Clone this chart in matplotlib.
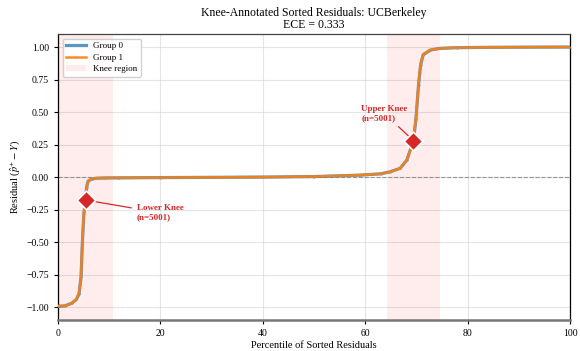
import matplotlib
matplotlib.use("Agg")
import matplotlib.pyplot as plt

plt.rcParams["font.family"] = ["Liberation Serif", "DejaVu Serif"]
plt.rcParams["mathtext.fontset"] = "stix"

# Sorted residual curves (percentile -> residual), per group
pct_g0 = [0, 1.4, 2.7, 3.6, 4.1, 4.5, 4.75, 5.05, 5.4, 5.6, 5.9, 6.6, 7.5, 9, 12, 20, 30,
          40, 50, 59, 63, 64.8, 66.8, 68.1, 68.9, 69.4, 69.9, 70.4, 70.8, 71.3, 72.7,
          74.6, 77.9, 84.4, 90, 100]
res_g0 = [-0.995, -0.99, -0.97, -0.94, -0.90, -0.77, -0.51, -0.28, -0.18, -0.074, -0.03,
          -0.015, -0.009, -0.007, -0.006, -0.004, -0.002, 0.0, 0.004, 0.015, 0.025, 0.04,
          0.067, 0.13, 0.22, 0.28, 0.45, 0.71, 0.86, 0.94, 0.977, 0.99, 0.995, 0.998,
          0.999, 1.0]
pct_g1 = [0, 1.4, 2.7, 3.6, 4.1, 4.5, 4.75, 5.05, 5.4, 5.6, 5.9, 6.6, 7.5, 9, 12, 20, 30,
          40, 50, 59, 63, 64.8, 66.8, 68.1, 68.9, 69.4, 69.9, 70.4, 70.8, 71.3, 72.7,
          74.6, 77.9, 84.4, 90, 100]
res_g1 = [-0.99, -0.99, -0.97, -0.94, -0.89, -0.76, -0.50, -0.27, -0.17, -0.07, -0.028,
          -0.014, -0.009, -0.007, -0.006, -0.004, -0.002, 0.0, 0.004, 0.015, 0.025, 0.04,
          0.067, 0.13, 0.22, 0.28, 0.46, 0.72, 0.87, 0.945, 0.978, 0.99, 0.995, 0.998,
          0.999, 1.0]

# Knee regions and knee points
knee_regions = [(0.0, 10.8), (64.3, 74.5)]
knee_x = [5.45, 69.4]
knee_y = [-0.177, 0.28]
knee_names = ["Lower Knee", "Upper Knee"]
knee_counts = [5001, 5001]
label_pos = [(15.4, -0.275), (59.2, 0.49)]

title = "Knee-Annotated Sorted Residuals: UCBerkeley\nECE = 0.333"

fig = plt.figure(figsize=(5.8, 3.51), dpi=100)
ax = fig.add_axes([0.1, 0.088, 0.883, 0.815])

span_handle = None
for i, (lo, hi) in enumerate(knee_regions):
    h = ax.axvspan(lo, hi, color="red", alpha=0.07, lw=0)
    if span_handle is None:
        span_handle = h

ax.axhline(0, color="gray", ls="--", lw=0.8, alpha=0.8)

(l0,) = ax.plot(pct_g0, res_g0, color="#1f77b4", lw=2.3, alpha=0.75,
                marker="o", ms=1.8, mfc="#7f8fa0", mec="none", zorder=3)
(l1,) = ax.plot(pct_g1, res_g1, color="#ff7f0e", lw=1.8, alpha=0.9, zorder=4)

red = "#d62728"
for kx, ky, name, n, (tx, ty) in zip(knee_x, knee_y, knee_names, knee_counts, label_pos):
    ax.scatter([kx], [ky], marker="D", s=90, color=red, edgecolor="white",
               linewidth=1.2, zorder=6)
    ax.annotate(f"{name}\n(n={n})", xy=(kx, ky), xytext=(tx, ty),
                textcoords="data", fontsize=6.5, fontweight="bold", color=red,
                ha="left", va="center",
                arrowprops=dict(arrowstyle="-", color=red, lw=0.9))

ax.set_xlim(0, 100)
ax.set_ylim(-1.1, 1.1)
ax.set_yticks([-1.0, -0.75, -0.5, -0.25, 0.0, 0.25, 0.5, 0.75, 1.0])
ax.set_xticks([0, 20, 40, 60, 80, 100])
ax.grid(True, color="#cccccc", alpha=0.5, lw=0.8)
ax.set_axisbelow(True)
ax.tick_params(labelsize=7, length=3, width=0.8)

ax.set_xlabel("Percentile of Sorted Residuals", fontsize=7.5, labelpad=2)
ax.set_ylabel(r"Residual ($\hat{p}^{+} - Y$)", fontsize=7.5, labelpad=3)
ax.set_title(title, fontsize=8.5, pad=4, linespacing=1.1)

for side in ["left", "right", "top"]:
    ax.spines[side].set_linewidth(0.9)
    ax.spines[side].set_color("black")
ax.spines["top"].set_color("#444444")
ax.spines["bottom"].set_color("#777777")
ax.spines["bottom"].set_linewidth(1.8)

ax.legend([l0, l1, span_handle], ["Group 0", "Group 1", "Knee region"],
          loc="upper left", fontsize=6.5, frameon=True, framealpha=0.9,
          edgecolor="#cccccc", fancybox=True, handlelength=2.2, borderpad=0.4,
          labelspacing=0.35)

fig.savefig("out.png", dpi=100)
